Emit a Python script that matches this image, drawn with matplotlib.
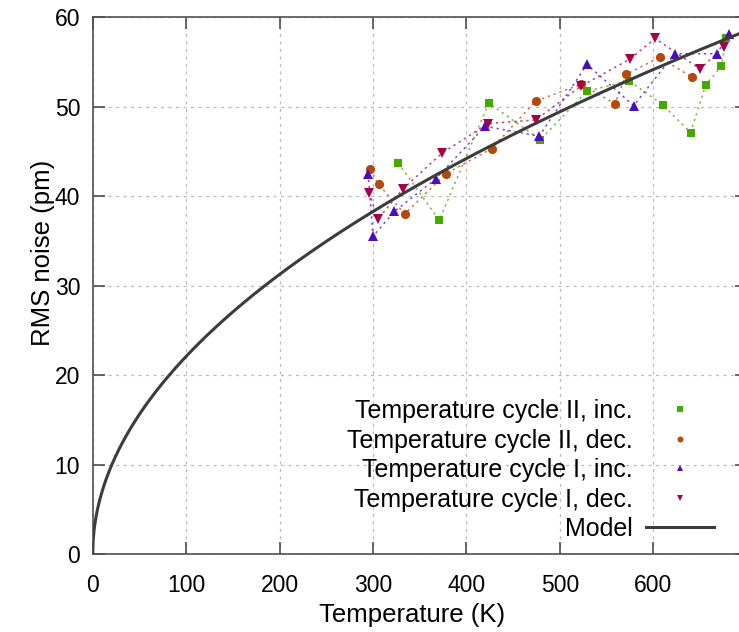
import numpy as np
import matplotlib
matplotlib.use("Agg")
import matplotlib.pyplot as plt

plt.rcParams['font.family'] = ['Liberation Sans', 'DejaVu Sans']

# cycle II, increasing temperature
t2_inc = [327, 371, 424, 479, 529, 574, 610, 640, 656, 673, 678]
v2_inc = [43.7, 37.3, 50.4, 46.3, 51.7, 52.9, 50.2, 47.1, 52.4, 54.5, 57.7]
# cycle II, decreasing temperature
t2_dec = [297, 306, 334, 378, 427, 474, 523, 559, 571, 607, 641]
v2_dec = [43.0, 41.3, 38.0, 42.5, 45.3, 50.6, 52.5, 50.3, 53.6, 55.5, 53.3]
# cycle I, increasing temperature
t1_inc = [295, 300, 323, 367, 420, 478, 529, 579, 623, 668, 681]
v1_inc = [42.5, 35.5, 38.3, 41.9, 47.8, 46.7, 54.7, 50.1, 55.9, 55.9, 58.1]
# cycle I, decreasing temperature
t1_dec = [296, 305, 332, 374, 423, 474, 523, 575, 602, 650, 676]
v1_dec = [40.4, 37.4, 40.8, 44.8, 48.1, 48.5, 52.3, 55.3, 57.6, 54.2, 56.7]

# model: rms noise ~ sqrt(T), coefficient
model_coeff = 2.21

series = [
    ("Temperature cycle II, inc.", t2_inc, v2_inc, 's', '#47a800', 6.3),
    ("Temperature cycle II, dec.", t2_dec, v2_dec, 'o', '#b24a0c', 6.6),
    ("Temperature cycle I, inc.", t1_inc, v1_inc, '^', '#4c0db8', 6.8),
    ("Temperature cycle I, dec.", t1_dec, v1_dec, 'v', '#a80048', 6.8),
]

fig = plt.figure(figsize=(7.39, 6.32), dpi=100)
ax = fig.add_axes([0.1254, 0.1229, 0.885, 0.8502])

# grid (gnuplot-like dotted)
ax.grid(True, color='#bcbcbc', linestyle=(0, (2.5, 3.5)), linewidth=0.9)
ax.set_axisbelow(True)

handles = []
for label, t, v, m, c, ms in series:
    ax.plot(t, v, linestyle=(0, (1.5, 2.5)), color=c, lw=1.1, alpha=0.75, zorder=2)
    h, = ax.plot(t, v, linestyle='none', marker=m, color=c, ms=ms,
                 markeredgewidth=0, label=label, zorder=3)
    handles.append(h)

T = np.linspace(0, 700, 1400)
hm, = ax.plot(T, model_coeff * np.sqrt(T), color='#3c3c3c', lw=2.2, label='Model', zorder=4)
handles.append(hm)

ax.set_xlim(0, 700)
ax.set_ylim(0, 60)
ax.set_xticks([0, 100, 200, 300, 400, 500, 600])
ax.set_yticks([0, 10, 20, 30, 40, 50, 60])

ax.tick_params(direction='in', length=8.5, width=1.1, colors='#404040',
               top=True, right=True, labelsize=16.5, labelcolor='black')
ax.tick_params(axis='x', pad=14)
ax.tick_params(axis='y', pad=9)
for s in ax.spines.values():
    s.set_color('#505050')
    s.set_linewidth(1.2)

ax.set_xlabel('Temperature (K)', fontsize=18.5)
ax.set_ylabel('RMS noise (pm)', fontsize=18.5)
ax.xaxis.set_label_coords(0.489, -0.09)
ax.yaxis.set_label_coords(-0.057, 0.561)

leg = ax.legend(handles=handles, loc='lower right', bbox_to_anchor=(0.965, 0.006),
                frameon=False, markerfirst=False, fontsize=18, markerscale=0.65,
                handlelength=2.7, handletextpad=0.55, labelspacing=0.22,
                borderaxespad=0.0)
for txt in leg.get_texts():
    txt.set_ha('right')

fig.savefig('out.png', dpi=100)
